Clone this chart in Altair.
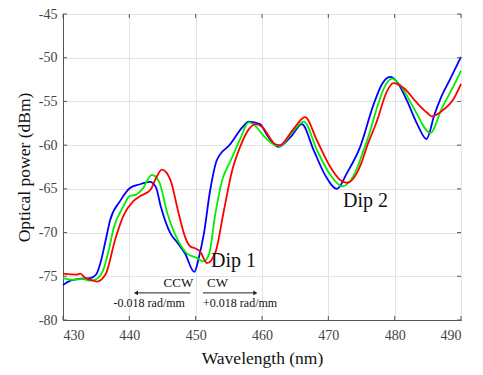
import altair as alt
import pandas as pd

# ---- data ----
blue_wl = [430, 431.1, 432.5, 434.1, 435.0, 435.6, 436.4, 437.1, 438.6, 440.1, 441.5, 443.1, 444.0,
           444.7, 446.2, 447.2, 448.4, 449.8, 450.5, 451.2, 452.2, 453.2, 455.2, 457.0, 458.0,
           459.7, 460.8, 462.5, 464.5, 466.0, 467.8, 469.5, 471.3, 472.8, 474.8, 476.8, 478.1,
           479.3, 480.4, 481.9, 483.4, 484.8, 486.0, 486.9, 488.4, 490]
blue_db = [-76.0, -75.5, -75.3, -75.2, -74.8, -73.6, -71.0, -68.6, -66.4, -64.9, -64.5, -64.2, -64.8,
           -66.9, -70.1, -71.1, -72.4, -74.5, -72.8, -70.3, -65.1, -61.7, -59.9, -58.0, -57.3,
           -57.6, -58.9, -60.2, -58.9, -57.6, -60.6, -63.4, -65.0, -63.2, -60.2, -55.4, -53.0,
           -52.2, -52.8, -55.0, -57.6, -59.3, -56.5, -54.7, -52.4, -49.9]

green_wl = [430, 431.5, 433.0, 433.9, 434.8, 436.1, 436.9, 437.6, 439.1, 440.1, 440.9, 442.0, 443.4,
            444.5, 445.7, 447.2, 448.7, 450.2, 451.2, 452.0, 453.0, 454.0, 455.2, 456.7, 458.0,
            459.0, 460.2, 461.5, 462.7, 464.5, 466.3, 468.3, 470.3, 472.1, 474.3, 475.3, 476.3,
            477.3, 478.5, 479.6, 480.9, 482.9, 485.4, 487.1, 488.9, 490]
green_db = [-75.2, -75.4, -75.3, -75.5, -75.4, -74.2, -72.0, -69.6, -67.0, -65.8, -65.7, -65.0, -63.4,
            -64.2, -67.7, -70.7, -72.4, -72.9, -73.3, -72.5, -67.7, -64.0, -61.9, -59.3, -57.4,
            -57.8, -58.9, -59.8, -60.1, -58.6, -57.3, -60.6, -63.4, -64.7, -62.7, -60.6, -58.4,
            -55.8, -53.3, -52.4, -53.2, -55.8, -58.6, -55.8, -53.2, -51.5]

red_wl = [430, 432.1, 432.6, 433.4, 434.6, 435.1, 436.4, 437.9, 439.1, 440.6, 441.7, 443.2, 444.0,
          444.9, 446.2, 447.4, 448.4, 449.2, 449.9, 450.7, 451.7, 453.0, 454.2, 455.5, 456.7,
          458.0, 459.0, 460.0, 462.0, 462.7, 464.6, 466.5, 468.3, 470.3, 471.8, 472.8, 474.3,
          475.0, 475.8, 477.3, 478.8, 479.8, 481.4, 483.4, 484.9, 485.6, 487.1, 488.9, 490]
red_db = [-74.7, -74.8, -74.7, -75.2, -75.5, -75.6, -74.8, -70.7, -68.1, -66.4, -65.8, -65.1, -63.8,
          -62.8, -64.0, -67.7, -70.5, -71.6, -71.8, -72.2, -73.5, -72.2, -67.7, -62.9, -60.2,
          -58.2, -57.6, -57.9, -59.9, -60.0, -58.3, -56.8, -59.5, -62.5, -64.0, -64.3, -63.2,
          -62.0, -60.2, -57.3, -53.9, -52.9, -53.5, -55.2, -56.3, -56.7, -56.1, -54.7, -53.0]

series_names = ["blue", "green", "red"]
series_colors = ["#0000ff", "#00ee00", "#ff0000"]

x_ticks = [430, 440, 450, 460, 470, 480, 490]
y_ticks = [-80, -75, -70, -65, -60, -55, -50, -45]

dip_labels = ["Dip 1", "Dip 2"]
dip_x = [455.7, 475.6]
dip_y = [-73.3, -66.4]

dir_labels = ["CCW", "CW"]
dir_x = [447.4, 453.3]
dir_y = [-75.8, -75.8]

rate_labels = ["-0.018 rad/mm", "+0.018 rad/mm"]
rate_x = [443.0, 456.7]
rate_y = [-78.1, -78.1]

arrow_start = [449.2, 451.1]
arrow_end = [441.0, 459.0]
arrow_y = [-76.9, -76.9]
arrow_shape = ["triangle-left", "triangle-right"]

# ---- build tables ----
rows = []
for name, wl, db in [("blue", blue_wl, blue_db), ("green", green_wl, green_db), ("red", red_wl, red_db)]:
    for i, (w, d) in enumerate(zip(wl, db)):
        rows.append({"series": name, "wl": w, "db": d, "order": i})
df = pd.DataFrame(rows)

W, H = 398, 306
FONT = "Liberation Serif"

xs = alt.Scale(domain=[430, 490], nice=False)
ys = alt.Scale(domain=[-80, -45], nice=False)

lines = alt.Chart(df).mark_line(strokeWidth=1.8, interpolate="monotone").encode(
    x=alt.X("wl:Q", scale=xs, title="Wavelength (nm)",
            axis=alt.Axis(values=x_ticks, ticks=False, labelPadding=8, grid=True,
                          labelExpr="'' + datum.value")),
    y=alt.Y("db:Q", scale=ys, title="Optical power (dBm)",
            axis=alt.Axis(values=y_ticks, ticks=False, labelPadding=6, grid=True,
                          labelExpr="'' + datum.value")),
    color=alt.Color("series:N", scale=alt.Scale(domain=series_names, range=series_colors), legend=None),
    detail="series:N",
    order="order:Q",
)

xt = pd.DataFrame({"v": x_ticks})
yt = pd.DataFrame({"v": y_ticks})
tick_color = "#555555"
xt_bottom = alt.Chart(xt).mark_rule(color=tick_color).encode(x=alt.X("v:Q", scale=xs), y=alt.value(H), y2=alt.value(H - 4))
xt_top = alt.Chart(xt).mark_rule(color=tick_color).encode(x=alt.X("v:Q", scale=xs), y=alt.value(0), y2=alt.value(4))
yt_left = alt.Chart(yt).mark_rule(color=tick_color).encode(y=alt.Y("v:Q", scale=ys), x=alt.value(0), x2=alt.value(4))
yt_right = alt.Chart(yt).mark_rule(color=tick_color).encode(y=alt.Y("v:Q", scale=ys), x=alt.value(W), x2=alt.value(W - 4))

dips = alt.Chart(pd.DataFrame({"t": dip_labels, "x": dip_x, "y": dip_y})).mark_text(
    font=FONT, fontSize=20, color="#111111").encode(
    x=alt.X("x:Q", scale=xs), y=alt.Y("y:Q", scale=ys), text="t:N")

dirs = alt.Chart(pd.DataFrame({"t": dir_labels, "x": dir_x, "y": dir_y})).mark_text(
    font=FONT, fontSize=13, color="#111111").encode(
    x=alt.X("x:Q", scale=xs), y=alt.Y("y:Q", scale=ys), text="t:N")

rates = alt.Chart(pd.DataFrame({"t": rate_labels, "x": rate_x, "y": rate_y})).mark_text(
    font=FONT, fontSize=12, color="#111111").encode(
    x=alt.X("x:Q", scale=xs), y=alt.Y("y:Q", scale=ys), text="t:N")

arr_df = pd.DataFrame({"x1": arrow_start, "x2": arrow_end, "y": arrow_y, "shape": arrow_shape})
arr_lines = alt.Chart(arr_df).mark_rule(color="#222222", strokeWidth=1).encode(
    x=alt.X("x1:Q", scale=xs), x2="x2:Q", y=alt.Y("y:Q", scale=ys))
arr_heads = alt.Chart(arr_df).mark_point(filled=True, color="#222222", size=22, opacity=1).encode(
    x=alt.X("x2:Q", scale=xs), y=alt.Y("y:Q", scale=ys),
    shape=alt.Shape("shape:N", scale=None))

chart = alt.layer(
    lines, xt_bottom, xt_top, yt_left, yt_right, arr_lines, arr_heads, dips, dirs, rates
).properties(
    width=W, height=H,
    autosize=alt.AutoSizeParams(type="none"),
    padding={"left": 55, "top": 6, "right": 14, "bottom": 55},
).configure_view(
    stroke="#555555", strokeWidth=1
).configure_axis(
    labelFont=FONT, titleFont=FONT, labelFontSize=14, titleFontSize=17.5,
    labelColor="#444444", titleColor="#111111", titleFontWeight="normal",
    gridColor="#e3e3e3", gridWidth=1, domainColor="#555555",
).configure_axisX(
    titlePadding=7,
).configure_axisY(
    titlePadding=5,
)

chart.save("out.html", embed_options={"renderer": "svg", "actions": False})
